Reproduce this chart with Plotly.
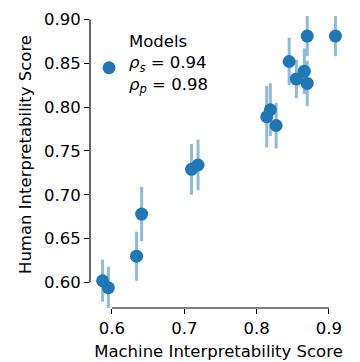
import plotly.graph_objects as go

machine = [0.587, 0.595, 0.634, 0.641, 0.710, 0.719, 0.814, 0.819, 0.827, 0.845, 0.855, 0.866, 0.870, 0.870, 0.909]
human = [0.602, 0.594, 0.630, 0.678, 0.729, 0.734, 0.789, 0.797, 0.779, 0.852, 0.832, 0.841, 0.827, 0.881, 0.881]
err = [0.024, 0.024, 0.028, 0.031, 0.029, 0.029, 0.035, 0.030, 0.026, 0.027, 0.022, 0.026, 0.026, 0.023, 0.023]
x_ticks = [0.6, 0.7, 0.8, 0.9]
y_ticks = [0.60, 0.65, 0.70, 0.75, 0.80, 0.85, 0.90]
legend_label = "Models<br><i>ρ<sub>s</sub></i> = 0.94<br><i>ρ<sub>p</sub></i> = 0.98"

blue = "#1f77b4"
W, H = 360, 362
ml, mr, mt, mb = 90, 13, 1, 54
pw, ph = W - ml - mr, H - mt - mb

fig = go.Figure()
fig.add_trace(go.Scatter(
    x=machine, y=human, mode="markers", name=" ",
    marker=dict(color=blue, size=13, line=dict(width=0)),
    error_y=dict(type="data", array=err, visible=True, color="rgba(31,119,180,0.5)",
                 thickness=3, width=0),
    showlegend=True,
))

font = dict(family="DejaVu Sans", size=16.5, color="black")
fig.update_layout(
    width=W, height=H,
    margin=dict(l=ml, r=mr, t=mt, b=mb),
    paper_bgcolor="white", plot_bgcolor="white",
    font=font,
    showlegend=True,
    legend=dict(x=(109 - 20 - ml) / pw, y=1 - (68 - mt) / ph, xanchor="left", yanchor="middle",
                bgcolor="rgba(0,0,0,0)", font=font, borderwidth=0),
    xaxis=dict(range=[0.5696, 0.925], tickvals=x_ticks, ticktext=[f"{v:.1f}" for v in x_ticks],
               ticks="outside", ticklen=5, tickwidth=1.2, tickcolor="black",
               showline=False, showgrid=False, zeroline=False,
               title=dict(text="Machine Interpretability Score", standoff=8, font=font)),
    yaxis=dict(range=[0.5709, 0.921], tickvals=y_ticks, ticktext=[f"{v:.2f}" for v in y_ticks],
               ticks="outside", ticklen=5, tickwidth=1.2, tickcolor="black",
               showline=False, showgrid=False, zeroline=False,
               title=dict(text="Human Interpretability Score", standoff=8, font=font)),
)
fig.add_annotation(text=legend_label, xref="paper", yref="paper",
                   x=(127 - ml) / pw, y=1 - (64 - mt) / ph, xanchor="left", yanchor="middle",
                   align="left", showarrow=False, font=font)
fig.add_shape(type="line", xref="x", yref="paper", x0=x_ticks[0], x1=x_ticks[-1], y0=0, y1=0,
              line=dict(color="black", width=1.2))
fig.add_shape(type="line", xref="paper", yref="y", x0=0, x1=0, y0=y_ticks[0], y1=y_ticks[-1],
              line=dict(color="black", width=1.2))
fig.write_html("out.html")
